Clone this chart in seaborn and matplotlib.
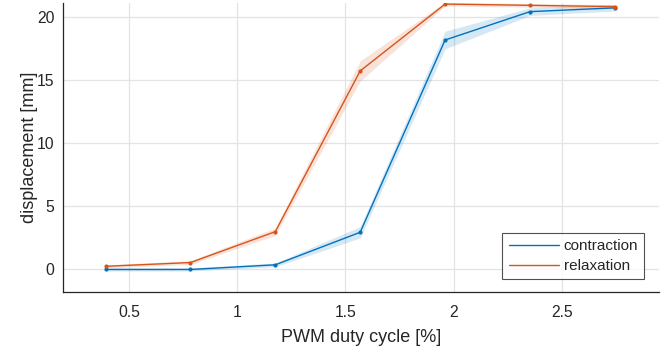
import matplotlib
matplotlib.use("Agg")
import matplotlib.pyplot as plt
from matplotlib.lines import Line2D
import numpy as np
import pandas as pd
import seaborn as sns

# Data
duty = [0.392, 0.784, 1.176, 1.568, 1.96, 2.352, 2.744]
contraction = [0.0, 0.0, 0.37, 2.95, 18.2, 20.45, 20.75]
contraction_std = [0.12, 0.12, 0.15, 0.45, 0.7, 0.3, 0.25]
relaxation = [0.25, 0.55, 3.0, 15.75, 21.05, 20.95, 20.85]
relaxation_std = [0.12, 0.15, 0.3, 0.8, 0.15, 0.15, 0.15]
series_names = ["contraction", "relaxation"]
colors = ["#0072BD", "#D95319"]
xticks = [0.5, 1, 1.5, 2, 2.5]
xticklabels = ["0.5", "1", "1.5", "2", "2.5"]
yticks = [0, 5, 10, 15, 20]

sns.set_style("white")
plt.rcParams["font.family"] = ["Liberation Sans", "DejaVu Sans"]

df = pd.DataFrame({
    "duty": duty * 2,
    "disp": contraction + relaxation,
    "series": [series_names[0]] * len(duty) + [series_names[1]] * len(duty),
})

fig = plt.figure(figsize=(6.62, 3.52), dpi=100)
ax = fig.add_axes([0.095, 0.170, 0.9005, 0.822])

for mean, std, col in [(contraction, contraction_std, colors[0]),
                       (relaxation, relaxation_std, colors[1])]:
    m = np.array(mean)
    s = np.array(std)
    ax.fill_between(duty, m - s, m + s, color=col, alpha=0.16, linewidth=0, zorder=1)

sns.lineplot(data=df, x="duty", y="disp", hue="series", palette=colors,
             marker="o", markersize=3.0, markeredgewidth=0, linewidth=1.0,
             errorbar=None, legend=False, ax=ax, zorder=3)

ax.set_xlim(0.195, 2.948)
ax.set_ylim(-1.8, 21.15)
ax.set_xticks(xticks)
ax.set_xticklabels(xticklabels)
ax.set_yticks(yticks)
ax.grid(True, color="#e3e3e3", linewidth=0.9)
ax.set_axisbelow(True)
for side in ["top", "right"]:
    ax.spines[side].set_visible(False)
for side in ["left", "bottom"]:
    ax.spines[side].set_color("#262626")
    ax.spines[side].set_linewidth(0.9)
ax.tick_params(axis="both", direction="in", length=4.5, width=0.8,
               color="#404040", labelsize=11.3, labelcolor="#262626")
ax.tick_params(axis="x", pad=9)
ax.tick_params(axis="y", pad=6)
ax.set_xlabel("PWM duty cycle [%]", fontsize=13, color="#262626", labelpad=7)
ax.set_ylabel("displacement [mm]", fontsize=13, color="#262626", labelpad=-1)

handles = [Line2D([0], [0], color=c, linewidth=1.0) for c in colors]
leg = ax.legend(handles, series_names, loc="lower right",
                bbox_to_anchor=(0.975, 0.045), borderaxespad=0,
                fontsize=11, handlelength=3.3, handletextpad=0.3,
                frameon=True, fancybox=False, borderpad=0.4, labelspacing=0.4)
leg.get_frame().set_edgecolor("#262626")
leg.get_frame().set_linewidth(0.8)

fig.savefig("out.png", dpi=100)
